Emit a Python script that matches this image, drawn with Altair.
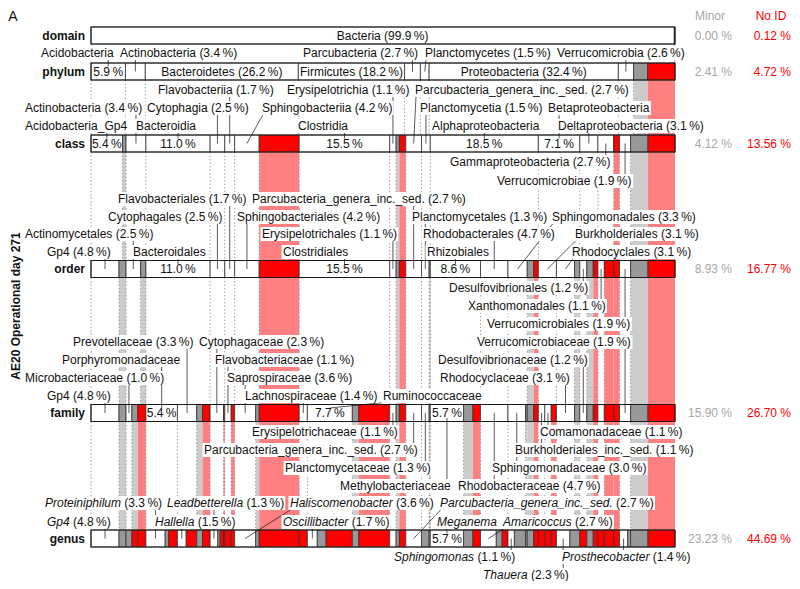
import altair as alt
import pandas as pd

# ---------------------------------------------------------------- data
ranks = ["domain", "phylum", "class", "order", "family", "genus"]
minor_share = ["0.00 %", "2.41 %", "4.12 %", "8.93 %", "15.90 %", "23.23 %"]
noid_share = ["0.12 %", "4.72 %", "13.56 %", "16.77 %", "26.70 %", "44.69 %"]

M, N, U = "~minor", "~noid", "~taxon"

domain_names = ["Bacteria", N]
domain_pct = [99.88, 0.12]

phylum_names = ["Acidobacteria", "Actinobacteria", "Bacteroidetes", "Firmicutes", "Parcubacteria",
                "Planctomycetes", "Proteobacteria", "Verrucomicrobia", M, N]
phylum_pct = [5.9, 3.4, 26.2, 18.2, 2.7, 1.5, 32.4, 2.6, 2.41, 4.69]

class_names = ["Acidobacteria_Gp4", M, "Actinobacteria", "Bacteroidia", "Cytophagia", "Flavobacteriia",
               "Sphingobacteriia", N, "Clostridia", "Erysipelotrichia", M, N,
               "Parcubacteria_genera_inc._sed.", "Planctomycetia", "Alphaproteobacteria",
               "Betaproteobacteria", "Deltaproteobacteria", "Gammaproteobacteria", N,
               "Verrucomicrobiae", M, N]
class_pct = [5.4, 0.6, 3.4, 11.0, 2.5, 1.7, 4.2, 6.85, 15.5, 1.1, 0.55, 1.1, 2.7, 1.5, 18.5,
             7.1, 3.1, 2.7, 1.0, 1.9, 2.97, 4.63]

order_names = ["Gp4", M, "Actinomycetales", M, "Bacteroidales", "Cytophagales", "Flavobacteriales",
               "Sphingobacteriales", N, "Clostridiales", "Erysipelotrichales", M, N,
               "Parcubacteria_genera_inc._sed.", "Planctomycetales", M, "Rhizobiales",
               "Rhodobacterales", "Sphingomonadales", M, N, "Burkholderiales", "Rhodocyclales", M,
               "Desulfovibrionales", M, N, "Xanthomonadales", N, N, "Verrucomicrobiales", M, N]
order_pct = [4.8, 1.2, 2.5, 0.9, 11.0, 2.5, 1.7, 4.2, 6.85, 15.5, 1.1, 0.55, 1.1, 2.7, 1.3, 0.2,
             8.6, 4.7, 3.3, 1.1, 0.8, 3.1, 3.1, 0.9, 1.2, 1.1, 0.8, 1.1, 1.6, 1.0, 1.9, 2.97, 4.63]

family_names = ["Gp4", M, "Microbacteriaceae", M, N, "Porphyromonadaceae", "Prevotellaceae", M, N,
                "Cytophagaceae", N, "Flavobacteriaceae", N, "Saprospiraceae", M, N,
                "Lachnospiraceae", "Ruminococcaceae", M, N, "Erysipelotrichaceae", M, N,
                "Parcubacteria_genera_inc._sed.", "Planctomycetaceae", M, "Methylobacteriaceae", M, N,
                "Rhodobacteraceae", "Sphingomonadaceae", M, M, N, "Burkholderiales_inc._sed.",
                "Comamonadaceae", N, "Rhodocyclaceae", M, "Desulfovibrionaceae", M, N, U, N, N,
                "Verrucomicrobiaceae", M, N]
family_pct = [4.8, 1.2, 1.0, 1.0, 1.4, 5.4, 3.3, 1.0, 1.3, 2.3, 0.2, 1.1, 0.6, 3.6, 0.6, 6.85,
              1.4, 7.7, 1.1, 5.3, 1.1, 0.55, 1.1, 2.7, 1.3, 0.2, 5.7, 1.6, 1.3, 4.7, 3.0, 0.3,
              1.1, 0.8, 1.1, 1.1, 0.9, 3.1, 0.9, 1.2, 1.1, 0.8, 1.1, 1.6, 1.0, 1.9, 2.97, 4.63]

genus_names = ["Gp4", M, M, N, N, "Proteiniphilum", M, N, "Hallella", N, M, N, "Leadbetterella", M,
               N, N, N, N, "Haliscomenobacter", M, N, N, "Oscillibacter", M, N, M, N, U, M, N,
               "Parcubacteria_genera_inc._sed.", M, M, "Meganema", M, N, "Amaricoccus", M, N,
               "Sphingomonas", M, M, M, N, N, N, N, "Thauera", M, N, M, N, N, N, N,
               "Prosthecobacter", M, M, N]
genus_pct = [4.8, 1.2, 1.0, 1.0, 1.4, 3.3, 0.6, 1.5, 1.5, 1.8, 1.0, 1.3, 1.3, 0.4,
             0.6, 0.2, 1.1, 0.6, 3.6, 0.6, 6.85, 1.4, 1.7, 1.5, 4.5, 1.1, 5.3, 1.1, 0.55, 1.1,
             2.7, 1.3, 0.2, 5.7, 1.6, 1.3, 2.7, 1.0, 1.0,
             1.1, 1.9, 0.3, 1.1, 0.8, 1.1, 1.1, 0.9, 2.3, 1.7, 1.2, 1.1, 0.8, 1.1, 1.6, 1.0,
             1.4, 0.5, 2.97, 4.63]

# ---------------------------------------------------------------- label placement (page px)
domain_layout = {"Bacteria": ("in",)}
phylum_layout = {
    "Acidobacteria": ("pct", 53, 41), "Actinobacteria": ("out", 53, 120),
    "Bacteroidetes": ("in",), "Firmicutes": ("in",), "Parcubacteria": ("out", 53, 303),
    "Planctomycetes": ("out", 53, 425), "Proteobacteria": ("in",),
    "Verrucomicrobia": ("out", 53, 557),
}
class_layout = {
    "Acidobacteria_Gp4": ("pct", 126, 25), "Actinobacteria": ("out", 108, 25),
    "Bacteroidia": ("pct", 126, 136), "Cytophagia": ("out", 108, 147),
    "Flavobacteriia": ("out", 90, 158), "Sphingobacteriia": ("out", 108, 262),
    "Clostridia": ("pct", 126, 298), "Erysipelotrichia": ("out", 90, 287),
    "Parcubacteria_genera_inc._sed.": ("out", 90, 415), "Planctomycetia": ("out", 108, 420),
    "Alphaproteobacteria": ("pct", 126, 432), "Betaproteobacteria": ("pct", 108, 548),
    "Deltaproteobacteria": ("out", 126, 558), "Gammaproteobacteria": ("out", 162, 450),
    "Verrucomicrobiae": ("out", 181, 497),
}
order_layout = {
    "Gp4": ("out", 252, 47), "Actinomycetales": ("out", 234, 25),
    "Bacteroidales": ("pct", 252, 133), "Cytophagales": ("out", 217, 108),
    "Flavobacteriales": ("out", 199, 118), "Sphingobacteriales": ("out", 217, 237),
    "Clostridiales": ("pct", 252, 283), "Erysipelotrichales": ("out", 234, 262),
    "Parcubacteria_genera_inc._sed.": ("out", 199, 252), "Planctomycetales": ("out", 217, 412),
    "Rhizobiales": ("pct", 252, 427), "Rhodobacterales": ("out", 234, 423),
    "Sphingomonadales": ("out", 217, 552), "Burkholderiales": ("out", 234, 575),
    "Rhodocyclales": ("out", 252, 572), "Desulfovibrionales": ("out", 288, 449),
    "Xanthomonadales": ("out", 306, 468), "Verrucomicrobiales": ("out", 324, 487),
}
family_layout = {
    "Gp4": ("out", 396, 47), "Microbacteriaceae": ("out", 378, 25),
    "Porphyromonadaceae": ("pct", 360, 62), "Prevotellaceae": ("out", 342, 73),
    "Cytophagaceae": ("out", 342, 199), "Flavobacteriaceae": ("out", 360, 215),
    "Saprospiraceae": ("out", 378, 227), "Lachnospiraceae": ("out", 396, 245),
    "Ruminococcaceae": ("pct", 396, 383), "Erysipelotrichaceae": ("out", 432, 252),
    "Parcubacteria_genera_inc._sed.": ("out", 450, 204), "Planctomycetaceae": ("out", 468, 285),
    "Methylobacteriaceae": ("pct", 486, 340), "Rhodobacteraceae": ("out", 486, 458),
    "Sphingomonadaceae": ("out", 468, 492), "Burkholderiales_inc._sed.": ("out", 450, 515),
    "Comamonadaceae": ("out", 432, 540), "Rhodocyclaceae": ("out", 378, 440),
    "Desulfovibrionaceae": ("out", 360, 438), "Verrucomicrobiaceae": ("out", 342, 477),
}
genus_layout = {
    "Gp4": ("out", 522, 47), "Proteiniphilum": ("out", 503, 45), "Hallella": ("out", 522, 155),
    "Leadbetterella": ("out", 503, 167), "Haliscomenobacter": ("out", 503, 290),
    "Oscillibacter": ("out", 522, 283), "Parcubacteria_genera_inc._sed.": ("out", 503, 440),
    "Meganema": ("pct", 522, 437), "Amaricoccus": ("out", 522, 503),
    "Sphingomonas": ("out", 557, 394), "Thauera": ("out", 575, 483),
    "Prosthecobacter": ("out", 557, 562),
}

rows_names = [domain_names, phylum_names, class_names, order_names, family_names, genus_names]
rows_pct = [domain_pct, phylum_pct, class_pct, order_pct, family_pct, genus_pct]
layouts = [domain_layout, phylum_layout, class_layout, order_layout, family_layout, genus_layout]

ROW_Y = [35.5, 71.5, 143.5, 269.0, 413.0, 538.5]
HALF = 8.5
X0, PX = 91.0, 5.84
FONT = "Liberation Sans"
FS = 12


def P(px):
    return (px - X0) / PX


def C(p):
    return X0 + PX * p


W = {' ': 278, '(': 333, ')': 333, '.': 278, '_': 556, '%': 889, '\u2009': 167}
for d in "0123456789":
    W[d] = 556
W.update(dict(zip("ABCDEFGHIJKLMNOPQRSTUVWXYZ",
                  [667, 667, 722, 722, 667, 611, 778, 722, 278, 500, 667, 556, 833, 722, 778, 667,
                   778, 722, 667, 611, 722, 667, 944, 667, 667, 611])))
W.update(dict(zip("abcdefghijklmnopqrstuvwxyz",
                  [556, 556, 500, 556, 556, 278, 556, 556, 222, 222, 500, 222, 833, 556, 556, 556,
                   556, 333, 500, 278, 556, 500, 722, 500, 500, 500])))


def tw(s):
    return sum(W.get(c, 556) for c in s) * FS / 1000.0


def pct_txt(v):
    return f"{v:.1f}\u2009%"


segs, bands, dots, leaders, boxes = [], [], [], [], []
t_left, t_italic, t_center = [], [], []

for ri, (names, pcts) in enumerate(zip(rows_names, rows_pct)):
    cum = 0.0
    ry = ROW_Y[ri]
    lay = layouts[ri]
    for name, pct in zip(names, pcts):
        s, e = cum, cum + pct
        cum = e
        kind = "minor" if name == M else ("noid" if name == N else "taxon")
        fill = {"minor": "#999999", "noid": "#ff0000", "taxon": "#ffffff"}[kind]
        segs.append(dict(x=s, x2=e, y=ry - HALF, y2=ry + HALF, fill=fill))
        if ri < 5:
            if kind != "taxon":
                bands.append(dict(x=s, x2=e, y=ry + HALF, y2=ROW_Y[ri + 1] - HALF,
                                  fill="#cccccc" if kind == "minor" else "#ff8080"))
            else:
                for b in (s, e):
                    dots.append(dict(x=round(b, 3), y=ry + HALF, y2=ROW_Y[ri + 1] - HALF))
        if name in lay:
            spec = lay[name]
            mode = spec[0]
            cx = (s + e) / 2
            if mode == "in":
                t_center.append(dict(x=cx, y=ry, text=f"{name} ({pct_txt(pct)})"))
                continue
            ly, left = spec[1], spec[2]
            above = ly < ry
            if mode == "pct":
                t_center.append(dict(x=cx, y=ry, text=pct_txt(pct)))
                ty = ry - HALF + 3.5 if above else ry + HALF - 3.5
                full = [name]
            else:
                ty = ry
                full = [name, f"({pct_txt(pct)})"]
            if ri == 5:
                t_italic.append(dict(x=P(left), y=ly, text=name))
                if len(full) > 1:
                    t_left.append(dict(x=P(left + tw(name + " ")), y=ly, text=full[1]))
                width = tw(" ".join(full))
            else:
                t_left.append(dict(x=P(left), y=ly, text=" ".join(full)))
                width = tw(" ".join(full))
            boxes.append(dict(x=P(left - 1.5), x2=P(left + width + 1.5), y=ly - 7, y2=ly + 7))
            tx = C(cx)
            sx = min(max(tx, left + 1), left + width - 1)
            sy = ly + 6.5 if above else ly - 6.5
            leaders.append(dict(x=P(sx), y=sy, x2=cx, y2=ty))

dots_df = pd.DataFrame(dots).drop_duplicates()

xs = alt.Scale(domain=[P(8), P(792)], nice=False, zero=False)
ys = alt.Scale(domain=[8, 581], nice=False, zero=False, reverse=True)


def X(f="x"):
    return alt.X(f"{f}:Q", scale=xs, axis=None)


def Y(f="y"):
    return alt.Y(f"{f}:Q", scale=ys, axis=None)


band_layer = alt.Chart(pd.DataFrame(bands)).mark_rect().encode(
    x=X(), x2="x2:Q", y=Y(), y2="y2:Q", fill=alt.Fill("fill:N", scale=None))
dot_layer = alt.Chart(dots_df).mark_rule(color="#8c8c8c", strokeWidth=0.8, strokeDash=[1.5, 2]).encode(
    x=X(), y=Y(), y2="y2:Q")
seg_layer = alt.Chart(pd.DataFrame(segs)).mark_rect(stroke="#333333", strokeWidth=0.8).encode(
    x=X(), x2="x2:Q", y=Y(), y2="y2:Q", fill=alt.Fill("fill:N", scale=None))
outline = pd.DataFrame(dict(x=[0.0] * 6, x2=[100.0] * 6, y=[r - HALF for r in ROW_Y],
                            y2=[r + HALF for r in ROW_Y]))
outline_layer = alt.Chart(outline).mark_rect(fillOpacity=0, stroke="#1a1a1a", strokeWidth=1.1).encode(
    x=X(), x2="x2:Q", y=Y(), y2="y2:Q")
leader_layer = alt.Chart(pd.DataFrame(leaders)).mark_rule(color="#111111", strokeWidth=0.7).encode(
    x=X(), y=Y(), x2="x2:Q", y2="y2:Q")
box_layer = alt.Chart(pd.DataFrame(boxes)).mark_rect(fill="#ffffff").encode(
    x=X(), x2="x2:Q", y=Y(), y2="y2:Q")

txt_kw = dict(font=FONT, fontSize=FS, baseline="middle", color="#111111")
left_layer = alt.Chart(pd.DataFrame(t_left)).mark_text(align="left", **txt_kw).encode(
    x=X(), y=Y(), text="text:N")
ital_layer = alt.Chart(pd.DataFrame(t_italic)).mark_text(align="left", fontStyle="italic", **txt_kw).encode(
    x=X(), y=Y(), text="text:N")
center_layer = alt.Chart(pd.DataFrame(t_center)).mark_text(align="center", **txt_kw).encode(
    x=X(), y=Y(), text="text:N")

side = pd.DataFrame(dict(rank=ranks, minor=minor_share, noid=noid_share, y=ROW_Y,
                         xr=[P(85)] * 6, xm=[P(732)] * 6, xn=[P(791)] * 6))
rank_layer = alt.Chart(side).mark_text(align="right", fontWeight="bold", **txt_kw).encode(
    x=X("xr"), y=Y(), text="rank:N")
minor_layer = alt.Chart(side).mark_text(align="right", font=FONT, fontSize=FS, baseline="middle",
                                        color="#a6a6a6").encode(x=X("xm"), y=Y(), text="minor:N")
noid_layer = alt.Chart(side).mark_text(align="right", font=FONT, fontSize=FS, baseline="middle",
                                       color="#ff0000").encode(x=X("xn"), y=Y(), text="noid:N")

heads = pd.DataFrame(dict(x=[P(710), P(771)], y=[16, 16], text=["Minor", "No ID"],
                          col=["#a6a6a6", "#ff0000"]))
head_layer = alt.Chart(heads).mark_text(align="center", font=FONT, fontSize=FS, baseline="middle").encode(
    x=X(), y=Y(), text="text:N", color=alt.Color("col:N", scale=None))

misc = pd.DataFrame(dict(x=[P(13)], y=[17], text=["A"]))
a_layer = alt.Chart(misc).mark_text(align="center", font=FONT, fontSize=14, baseline="middle",
                                    color="#111111").encode(x=X(), y=Y(), text="text:N")
ytitle = pd.DataFrame(dict(x=[P(16)], y=[306], text=["AE20 Operational day 271"]))
ytitle_layer = alt.Chart(ytitle).mark_text(align="center", angle=270, fontWeight="bold", **txt_kw).encode(
    x=X(), y=Y(), text="text:N")

chart = alt.layer(
    band_layer, dot_layer, seg_layer, outline_layer, leader_layer, box_layer,
    left_layer, ital_layer, center_layer, rank_layer, minor_layer, noid_layer,
    head_layer, a_layer, ytitle_layer,
).properties(
    width=784, height=573, padding=0, background="#ffffff",
    autosize=alt.AutoSizeParams(type="none"),
).configure_view(strokeWidth=0, stroke="transparent")

chart.save("out.html", embed_options={"renderer": "svg", "actions": False})
